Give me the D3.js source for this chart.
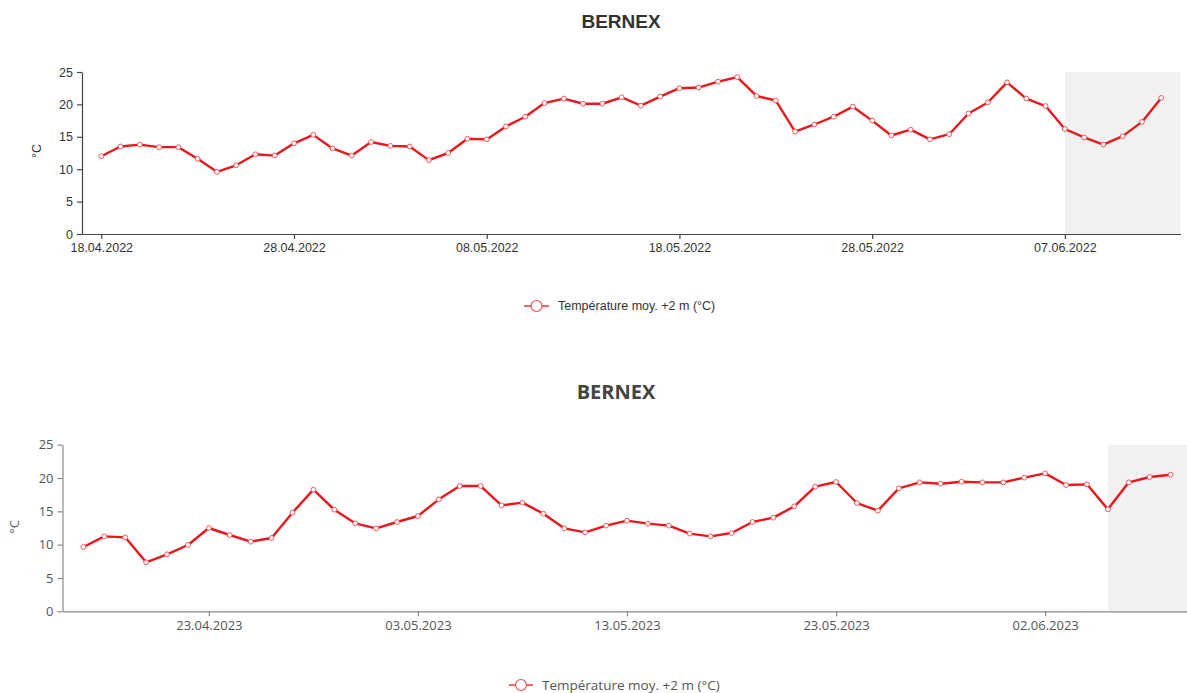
<!DOCTYPE html>
<html>
<head>
<meta charset="utf-8">
<script src="https://cdn.jsdelivr.net/npm/d3@7"></script>
<style>
  html, body { margin: 0; padding: 0; background: #fff; }
  svg { display: block; }
</style>
</head>
<body>
<svg id="chart" width="1187" height="693"></svg>
<script>
// Daily mean air temperature at +2 m, Bernex
const title2022 = "BERNEX";
const start2022 = "2022-04-18";
const temps2022 = [
  12.0, 13.5, 13.8, 13.4, 13.4, 11.6, 9.6, 10.6, 12.3, 12.1,
  14.0, 15.3, 13.2, 12.1, 14.2, 13.6, 13.5, 11.4, 12.5, 14.7,
  14.6, 16.6, 18.1, 20.2, 20.9, 20.1, 20.1, 21.1, 19.8, 21.2,
  22.5, 22.6, 23.5, 24.2, 21.3, 20.6, 15.8, 16.9, 18.1, 19.65,
  17.5, 15.2, 16.1, 14.6, 15.4, 18.6, 20.3, 23.4, 20.9, 19.75,
  16.2, 14.9, 13.8, 15.1, 17.3, 21.0
];
const forecastStart2022 = "2022-06-07";
const ticks2022 = ["18.04.2022", "28.04.2022", "08.05.2022", "18.05.2022", "28.05.2022", "07.06.2022"];

const title2023 = "BERNEX";
const start2023 = "2023-04-17";
const temps2023 = [
  9.65, 11.25, 11.1, 7.35, 8.55, 9.95, 12.5, 11.45, 10.45, 11.0,
  14.8, 18.25, 15.25, 13.2, 12.45, 13.4, 14.3, 16.8, 18.8, 18.8,
  15.9, 16.3, 14.65, 12.45, 11.85, 12.85, 13.6, 13.15, 12.85, 11.65,
  11.25, 11.75, 13.4, 14.05, 15.75, 18.7, 19.4, 16.25, 15.1, 18.45,
  19.35, 19.15, 19.45, 19.35, 19.35, 20.05, 20.7, 18.95, 19.05, 15.3,
  19.35, 20.15, 20.5
];
const forecastStart2023 = "2023-06-05";
const ticks2023 = ["23.04.2023", "03.05.2023", "13.05.2023", "23.05.2023", "02.06.2023"];

const yTicks = [0, 5, 10, 15, 20, 25];
const unitLabel = "°C";
const legendLabel = "Température moy. +2 m (°C)";

const svg = d3.select("#chart");
const parseISO = d3.timeParse("%Y-%m-%d");
const parseTick = d3.timeParse("%d.%m.%Y");
const fmtTick = d3.timeFormat("%d.%m.%Y");
const RED = "#e8171d";

function drawPanel(cfg) {
  const first = parseISO(cfg.start);
  const dates = cfg.values.map((v, i) => d3.timeDay.offset(first, i));
  const rows = dates.map((d, i) => ({ date: d, value: cfg.values[i] }));

  const x = d3.scaleTime()
    .domain([d3.timeDay.offset(first, -1), d3.timeDay.offset(dates[dates.length - 1], 1)])
    .range([cfg.left, cfg.right]);
  const y = d3.scaleLinear().domain([0, 25]).range([cfg.bottom, cfg.top]);

  const g = svg.append("g");

  // forecast period shading
  const fs = parseISO(cfg.forecastStart);
  g.append("rect")
    .attr("x", x(fs))
    .attr("y", y(25))
    .attr("width", cfg.right - x(fs))
    .attr("height", y(0) - y(25))
    .attr("fill", "#f1f1f1");

  // title
  g.append("text")
    .attr("x", cfg.titleX)
    .attr("y", cfg.titleY)
    .attr("text-anchor", "middle")
    .attr("font-family", cfg.titleFont)
    .attr("font-weight", "bold")
    .attr("font-size", cfg.titleSize)
    .attr("fill", cfg.titleColor)
    .text(cfg.title);

  // axes
  const xAxis = d3.axisBottom(x)
    .tickValues(cfg.ticks.map(parseTick))
    .tickFormat(fmtTick)
    .tickSizeInner(5)
    .tickSizeOuter(0);
  const yAxis = d3.axisLeft(y)
    .tickValues(yTicks)
    .tickSizeInner(5)
    .tickSizeOuter(0)
    .tickPadding(4);

  const gx = g.append("g").attr("transform", `translate(0,${y(0)})`).call(xAxis);
  const gy = g.append("g").attr("transform", `translate(${cfg.left},0)`).call(yAxis);
  [gx, gy].forEach(a => {
    a.selectAll("path, line").attr("stroke", cfg.axisColor).attr("stroke-width", 1.2);
    a.selectAll("text")
      .attr("font-family", cfg.font)
      .attr("font-size", cfg.tickSize)
      .attr("fill", cfg.textColor);
  });
  gx.selectAll("text").attr("dy", "0.9em").attr("y", cfg.xLabelGap);

  // unit label
  g.append("text")
    .attr("transform", `translate(${cfg.unitX},${cfg.unitY}) rotate(-90)`)
    .attr("text-anchor", "middle")
    .attr("font-family", cfg.font)
    .attr("font-size", cfg.tickSize)
    .attr("fill", cfg.textColor)
    .text(unitLabel);

  // series
  const line = d3.line().x(d => x(d.date)).y(d => y(d.value));
  g.append("path")
    .datum(rows)
    .attr("d", line)
    .attr("fill", "none")
    .attr("stroke", RED)
    .attr("stroke-width", 2.4)
    .attr("stroke-linejoin", "round");

  g.selectAll("circle.pt")
    .data(rows)
    .join("circle")
    .attr("class", "pt")
    .attr("cx", d => x(d.date))
    .attr("cy", d => y(d.value))
    .attr("r", 2.4)
    .attr("fill", "#fff")
    .attr("stroke", "#f0585c")
    .attr("stroke-width", 1);

  // legend
  const lg = g.append("g").attr("transform", `translate(${cfg.legendX},${cfg.legendY})`);
  lg.append("line")
    .attr("x1", 0).attr("x2", cfg.legendLine)
    .attr("y1", 0).attr("y2", 0)
    .attr("stroke", RED).attr("stroke-width", 1.3);
  lg.append("circle")
    .attr("cx", cfg.legendLine / 2).attr("cy", 0).attr("r", 5.5)
    .attr("fill", "#fff").attr("stroke", "#ee4b50").attr("stroke-width", 1.2);
  lg.append("text")
    .attr("x", cfg.legendLine + 9)
    .attr("y", 0)
    .attr("dy", "0.35em")
    .attr("font-family", cfg.font)
    .attr("font-size", cfg.legendSize)
    .attr("fill", cfg.textColor)
    .text(legendLabel);
}

drawPanel({
  title: title2022, start: start2022, values: temps2022,
  forecastStart: forecastStart2022, ticks: ticks2022,
  left: 82, right: 1180.5, top: 72, bottom: 234,
  titleX: 621, titleY: 28, titleSize: 19, titleFont: "'Liberation Sans', Arial, sans-serif", titleColor: "#333",
  font: "'Liberation Sans', Arial, sans-serif", tickSize: 12.5, textColor: "#333", axisColor: "#444",
  xLabelGap: 7,
  unitX: 41, unitY: 151,
  legendX: 524, legendY: 306, legendLine: 25, legendSize: 12.5
});

drawPanel({
  title: title2023, start: start2023, values: temps2023,
  forecastStart: forecastStart2023, ticks: ticks2023,
  left: 62.5, right: 1191.5, top: 444.7, bottom: 611.3,
  titleX: 616, titleY: 399, titleSize: 20, titleFont: "'Open Sans', sans-serif", titleColor: "#444",
  font: "'Open Sans', sans-serif", tickSize: 13, textColor: "#555", axisColor: "#888",
  xLabelGap: 7,
  unitX: 19, unitY: 527,
  legendX: 509, legendY: 685, legendLine: 24, legendSize: 13.5
});
</script>
</body>
</html>
